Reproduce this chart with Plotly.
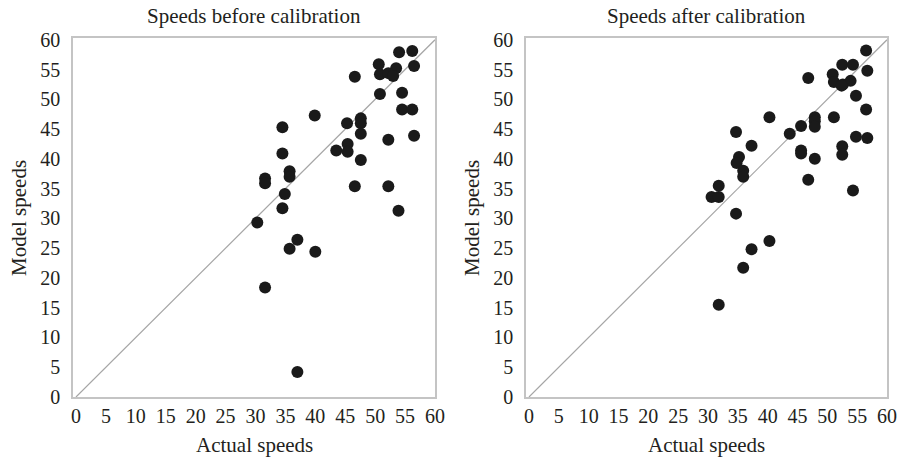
import plotly.graph_objects as go

# Before calibration
before_actual = [56.2, 54.0, 50.6, 56.5, 53.5, 50.8, 52.2, 53.0, 46.6, 50.8, 54.5, 54.5, 56.2,
                 39.9, 47.6, 47.6, 45.3, 34.5, 47.6, 56.5, 52.2, 45.4, 43.5, 45.4, 34.5, 47.6,
                 35.7, 35.7, 31.6, 31.6, 46.6, 52.2, 34.9, 34.5, 53.9, 30.3, 37.0, 35.7, 40.0,
                 31.6, 37.0]
before_model = [58.1, 57.9, 55.9, 55.6, 55.2, 54.2, 54.4, 53.9, 53.8, 50.9, 51.1, 48.3, 48.3,
                47.3, 46.8, 46.0, 46.0, 45.3, 44.2, 43.9, 43.2, 42.5, 41.4, 41.2, 40.9, 39.8,
                37.9, 37.0, 36.7, 35.9, 35.4, 35.4, 34.1, 31.7, 31.3, 29.3, 26.4, 24.9, 24.4,
                18.4, 4.2]

# After calibration
after_actual = [56.5, 52.5, 54.3, 56.7, 50.9, 46.8, 51.1, 52.6, 53.9, 52.4, 54.8, 56.5, 40.3,
                51.1, 47.9, 47.9, 47.9, 45.6, 34.7, 43.7, 54.8, 56.7, 37.3, 52.5, 52.5, 45.6,
                45.6, 35.2, 34.8, 47.9, 35.9, 35.9, 46.8, 31.8, 30.6, 31.8, 54.3, 34.7, 40.3,
                37.3, 35.9, 31.8]
after_model = [58.2, 55.8, 55.8, 54.8, 54.2, 53.6, 52.9, 52.5, 53.1, 52.3, 50.6, 48.3, 47.0,
               47.0, 47.0, 46.3, 45.4, 45.5, 44.5, 44.2, 43.7, 43.5, 42.2, 42.1, 40.7, 41.4,
               40.9, 40.3, 39.3, 40.0, 38.0, 37.0, 36.5, 35.5, 33.6, 33.6, 34.7, 30.8, 26.2,
               24.8, 21.7, 15.5]

diag = [0, 60]
tick_vals = list(range(0, 61, 5))
titles = ["Speeds before calibration", "Speeds after calibration"]

FONT = "Liberation Serif"
TXT = "#231f20"

W, H = 899, 460
ML, MR, MT, MB = 73, 12, 38, 63
PW, PH = W - ML - MR, H - MT - MB

fig = go.Figure()
panels = [(before_actual, before_model, "x", "y"), (after_actual, after_model, "x2", "y2")]
for xs, ys, xa, ya in panels:
    fig.add_trace(go.Scatter(x=diag, y=diag, mode="lines", xaxis=xa, yaxis=ya,
                             line=dict(color="#a6a6a6", width=1.2), hoverinfo="skip"))
    fig.add_trace(go.Scatter(x=xs, y=ys, mode="markers", xaxis=xa, yaxis=ya,
                             marker=dict(color="#1a1a1a", size=12, line=dict(width=0))))

px_doms = [(73, 435), (526, 887)]
doms = [[(a - ML) / PW, (b - ML) / PW] for a, b in px_doms]

axis_common = dict(tickvals=tick_vals, showgrid=False, zeroline=False, showline=True,
                   mirror=True, linecolor="#c4c4c4", linewidth=1.5, ticks="",
                   automargin=False,
                   tickfont=dict(family=FONT, size=20, color=TXT))

layout = dict(
    width=W, height=H, margin=dict(l=ML, r=MR, t=MT, b=MB, autoexpand=False),
    paper_bgcolor="white", plot_bgcolor="white", showlegend=False,
    font=dict(family=FONT, color=TXT),
)
for i, (d, ax, ay) in enumerate(zip(doms, ["xaxis", "xaxis2"], ["yaxis", "yaxis2"])):
    layout[ax] = dict(axis_common, domain=d, range=[-0.5, 60], ticklabelstandoff=0,
                      anchor="y" if i == 0 else "y2")
    layout[ay] = dict(axis_common, domain=[0, 1], range=[0, 60.3], ticklabelstandoff=7,
                      anchor="x" if i == 0 else "x2")
fig.update_layout(**layout)

def px_x(p):
    return (p - ML) / PW

def px_y(p):
    return (H - MB - p) / PH

ann = []
for i, (a, b) in enumerate(px_doms):
    cx = (a + b) / 2
    ann.append(dict(text=titles[i], x=px_x(cx), y=px_y(16), xref="paper", yref="paper",
                    showarrow=False, font=dict(family=FONT, size=21, color=TXT),
                    xanchor="center", yanchor="middle"))
    ann.append(dict(text="Actual speeds", x=px_x(cx), y=px_y(445), xref="paper", yref="paper",
                    showarrow=False, font=dict(family=FONT, size=21, color=TXT),
                    xanchor="center", yanchor="middle"))
    ann.append(dict(text="Model speeds", x=px_x(a - 54), y=px_y(218),
                    xref="paper", yref="paper", textangle=-90, showarrow=False,
                    font=dict(family=FONT, size=21, color=TXT),
                    xanchor="center", yanchor="middle"))
fig.update_layout(annotations=ann)

fig.write_html("out.html", config={"displayModeBar": False},
               post_script="document.body.style.margin='0';document.body.style.overflow='hidden';")
